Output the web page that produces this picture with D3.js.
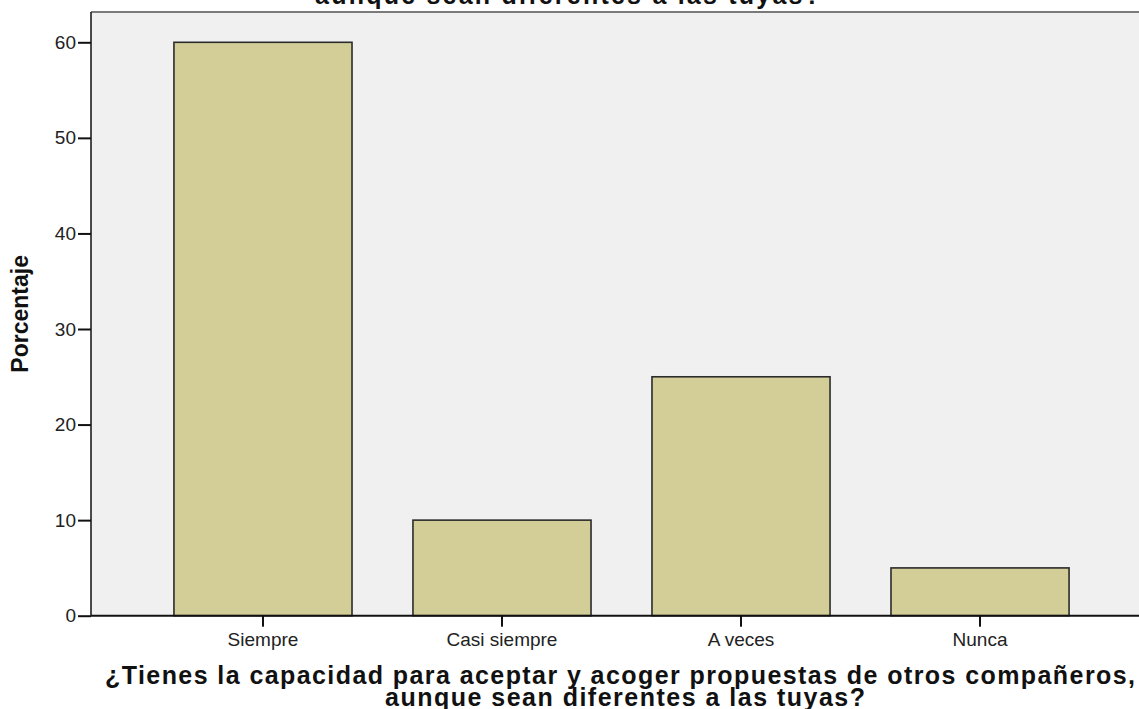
<!DOCTYPE html>
<html lang="es">
<head>
<meta charset="utf-8">
<title>Porcentaje</title>
<script src="https://cdn.jsdelivr.net/npm/d3@7"></script>
<style>
  body { margin: 0; background: #fff; }
  svg text { font-family: "Liberation Sans", Arial, sans-serif; }
</style>
</head>
<body>
<div id="viz"></div>
<script>
  // data
  var categories = ["Siempre", "Casi siempre", "A veces", "Nunca"];
  var percents = [60, 10, 25, 5];
  var yTicks = [0, 10, 20, 30, 40, 50, 60];
  var titleLines = ["¿Tienes la capacidad para aceptar y acoger propuestas de otros compañeros,",
                    "aunque sean diferentes a las tuyas?"];
  var yLabel = "Porcentaje";

  var W = 1139, H = 709;
  var plot = { left: 91, top: 12, right: 1152, bottom: 615.7 };

  var svg = d3.select("#viz").append("svg")
    .attr("width", W).attr("height", H);

  var x = d3.scaleBand()
    .domain(categories)
    .range([plot.left, plot.right])
    .paddingInner(0.255)
    .paddingOuter(0.347);

  var y = d3.scaleLinear()
    .domain([0, 60])
    .range([plot.bottom, 42.3]);

  // plot background
  svg.append("rect")
    .attr("x", plot.left).attr("y", plot.top)
    .attr("width", plot.right - plot.left)
    .attr("height", plot.bottom - plot.top)
    .attr("fill", "#f0f0f0");

  // top frame line
  svg.append("line")
    .attr("x1", plot.left).attr("x2", W)
    .attr("y1", plot.top).attr("y2", plot.top)
    .attr("stroke", "#7a7a7a").attr("stroke-width", 2);

  // truncated title at the very top
  svg.append("text")
    .attr("x", 315).attr("y", 3.5)
    .attr("textLength", 505).attr("lengthAdjust", "spacing")
    .style("font-size", "25px").style("font-weight", "bold")
    .attr("fill", "#111")
    .text(titleLines[1]);

  // bars
  svg.append("g").selectAll("rect")
    .data(percents)
    .enter().append("rect")
    .attr("x", function(d, i) { return x(categories[i]); })
    .attr("y", function(d) { return y(d); })
    .attr("width", x.bandwidth())
    .attr("height", function(d) { return y(0) - y(d); })
    .attr("fill", "#d3ce97")
    .attr("stroke", "#2b2b2b")
    .attr("stroke-width", 1.6);

  // y axis
  var yAxis = svg.append("g")
    .attr("transform", "translate(" + plot.left + ",0)")
    .call(d3.axisLeft(y).tickValues(yTicks).tickSize(13).tickPadding(2).tickFormat(d3.format("d")));
  yAxis.select(".domain").remove();
  yAxis.append("line")
    .attr("x1", 0).attr("x2", 0)
    .attr("y1", plot.top).attr("y2", plot.bottom)
    .attr("stroke", "#111").attr("stroke-width", 1.5);
  yAxis.selectAll(".tick line").attr("stroke", "#111").attr("stroke-width", 2);
  yAxis.selectAll(".tick text")
    .style("font-size", "19px").attr("fill", "#222")
    .attr("font-family", null);

  // x axis
  var xAxis = svg.append("g")
    .attr("transform", "translate(0," + plot.bottom + ")")
    .call(d3.axisBottom(x).tickSize(11).tickPadding(6));
  xAxis.select(".domain").remove();
  xAxis.append("line")
    .attr("x1", plot.left).attr("x2", W)
    .attr("y1", 0).attr("y2", 0)
    .attr("stroke", "#111").attr("stroke-width", 2);
  xAxis.selectAll(".tick line").attr("stroke", "#111").attr("stroke-width", 2);
  xAxis.selectAll(".tick text")
    .style("font-size", "19px").attr("fill", "#222")
    .attr("font-family", null);

  // y axis title
  svg.append("text")
    .attr("transform", "translate(28," + ((plot.top + plot.bottom) / 2) + ") rotate(-90)")
    .attr("text-anchor", "middle")
    .style("font-size", "23px").style("font-weight", "bold")
    .attr("fill", "#111")
    .text(yLabel);

  // x axis title, two lines
  svg.append("text")
    .attr("x", 105).attr("y", 684)
    .attr("textLength", 1030).attr("lengthAdjust", "spacing")
    .style("font-size", "25px").style("font-weight", "bold")
    .attr("fill", "#111")
    .text(titleLines[0]);
  svg.append("text")
    .attr("x", 385).attr("y", 706)
    .attr("textLength", 480).attr("lengthAdjust", "spacing")
    .style("font-size", "25px").style("font-weight", "bold")
    .attr("fill", "#111")
    .text(titleLines[1]);
</script>
</body>
</html>
